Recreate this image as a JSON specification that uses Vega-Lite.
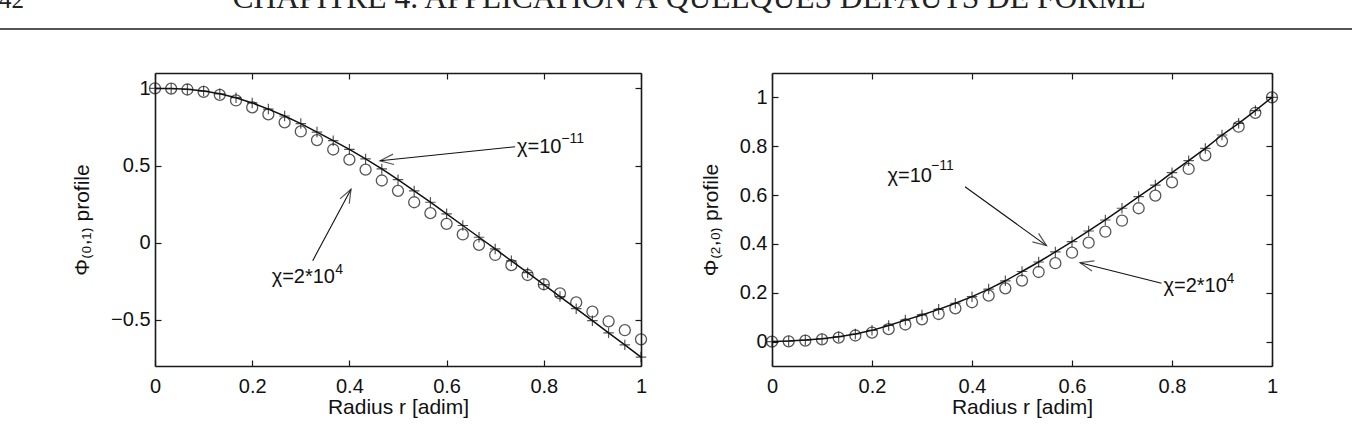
{
  "$schema": "https://vega.github.io/schema/vega-lite/v6.json",
  "width": 1359,
  "height": 428,
  "autosize": {"type": "none"},
  "padding": 0,
  "background": "white",
  "config": {
    "view": {"stroke": null},
    "font": "Liberation Sans",
    "axis": {
      "grid": false,
      "domainColor": "#1a1a1a",
      "domainWidth": 1.6,
      "tickColor": "#1a1a1a",
      "tickWidth": 1.2,
      "tickSize": -6,
      "labelFont": "Liberation Sans",
      "labelFontSize": 20,
      "labelColor": "#111",
      "labelPadding": 16,
      "labelOverlap": false,
      "labelFlush": false,
      "titleFont": "Liberation Sans",
      "titleFontSize": 21,
      "titleFontWeight": "normal",
      "titleColor": "#111"
    }
  },
  "datasets": {
    "phi01": [
      {"r": 0, "small": 1.000, "large": 1.000},
      {"r": 0.0333, "small": 0.999, "large": 0.999},
      {"r": 0.0667, "small": 0.994, "large": 0.993},
      {"r": 0.1, "small": 0.983, "large": 0.978},
      {"r": 0.1333, "small": 0.965, "large": 0.958},
      {"r": 0.1667, "small": 0.940, "large": 0.922},
      {"r": 0.2, "small": 0.906, "large": 0.877},
      {"r": 0.2333, "small": 0.866, "large": 0.832},
      {"r": 0.2667, "small": 0.821, "large": 0.780},
      {"r": 0.3, "small": 0.772, "large": 0.721},
      {"r": 0.3333, "small": 0.717, "large": 0.665},
      {"r": 0.3667, "small": 0.661, "large": 0.604},
      {"r": 0.4, "small": 0.605, "large": 0.538},
      {"r": 0.4333, "small": 0.543, "large": 0.473},
      {"r": 0.4667, "small": 0.478, "large": 0.403},
      {"r": 0.5, "small": 0.408, "large": 0.336},
      {"r": 0.5333, "small": 0.335, "large": 0.262},
      {"r": 0.5667, "small": 0.262, "large": 0.191},
      {"r": 0.6, "small": 0.187, "large": 0.122},
      {"r": 0.6333, "small": 0.111, "large": 0.053},
      {"r": 0.6667, "small": 0.035, "large": -0.014},
      {"r": 0.7, "small": -0.041, "large": -0.080},
      {"r": 0.7333, "small": -0.118, "large": -0.146},
      {"r": 0.7667, "small": -0.195, "large": -0.210},
      {"r": 0.8, "small": -0.272, "large": -0.270},
      {"r": 0.8333, "small": -0.350, "large": -0.329},
      {"r": 0.8667, "small": -0.428, "large": -0.388},
      {"r": 0.9, "small": -0.506, "large": -0.448},
      {"r": 0.9333, "small": -0.585, "large": -0.510},
      {"r": 0.9667, "small": -0.663, "large": -0.568},
      {"r": 1, "small": -0.742, "large": -0.627}
    ],
    "phi20": [
      {"r": 0, "small": 0.000, "large": 0.000},
      {"r": 0.0333, "small": 0.002, "large": 0.001},
      {"r": 0.0667, "small": 0.006, "large": 0.004},
      {"r": 0.1, "small": 0.012, "large": 0.009},
      {"r": 0.1333, "small": 0.020, "large": 0.016},
      {"r": 0.1667, "small": 0.031, "large": 0.025},
      {"r": 0.2, "small": 0.046, "large": 0.037},
      {"r": 0.2333, "small": 0.066, "large": 0.051},
      {"r": 0.2667, "small": 0.088, "large": 0.070},
      {"r": 0.3, "small": 0.109, "large": 0.091},
      {"r": 0.3333, "small": 0.132, "large": 0.113},
      {"r": 0.3667, "small": 0.157, "large": 0.136},
      {"r": 0.4, "small": 0.184, "large": 0.161},
      {"r": 0.4333, "small": 0.215, "large": 0.188},
      {"r": 0.4667, "small": 0.249, "large": 0.218},
      {"r": 0.5, "small": 0.287, "large": 0.250},
      {"r": 0.5333, "small": 0.326, "large": 0.285},
      {"r": 0.5667, "small": 0.367, "large": 0.321},
      {"r": 0.6, "small": 0.409, "large": 0.364},
      {"r": 0.6333, "small": 0.453, "large": 0.405},
      {"r": 0.6667, "small": 0.498, "large": 0.450},
      {"r": 0.7, "small": 0.546, "large": 0.495},
      {"r": 0.7333, "small": 0.594, "large": 0.546},
      {"r": 0.7667, "small": 0.641, "large": 0.598},
      {"r": 0.8, "small": 0.692, "large": 0.652},
      {"r": 0.8333, "small": 0.741, "large": 0.707},
      {"r": 0.8667, "small": 0.791, "large": 0.763},
      {"r": 0.9, "small": 0.846, "large": 0.821},
      {"r": 0.9333, "small": 0.894, "large": 0.880},
      {"r": 0.9667, "small": 0.946, "large": 0.937},
      {"r": 1, "small": 1.000, "large": 1.000}
    ],
    "notes01": [
      {"id": "small", "label": "χ=10", "sup": "−11", "tx": 0.745, "ty": 0.584, "sx": 0.836, "sy": 0.648, "ax": 0.741, "ay": 0.622, "hx": 0.463, "hy": 0.531},
      {"id": "large", "label": "χ=2*10", "sup": "4", "tx": 0.240, "ty": -0.262, "sx": 0.371, "sy": -0.203, "ax": 0.3245, "ay": -0.117, "hx": 0.4033, "hy": 0.346}
    ],
    "notes20": [
      {"id": "small", "label": "χ=10", "sup": "−11", "tx": 0.231, "ty": 0.654, "sx": 0.318, "sy": 0.703, "ax": 0.386, "ay": 0.634, "hx": 0.549, "hy": 0.393},
      {"id": "large", "label": "χ=2*10", "sup": "4", "tx": 0.783, "ty": 0.204, "sx": 0.909, "sy": 0.239, "ax": 0.779, "ay": 0.239, "hx": 0.616, "hy": 0.323}
    ],
    "runninghead": [
      {"part": "rule", "x": 0, "x2": 1352, "y": 29},
      {"part": "folio", "x": -1, "y": 7.5, "t": "42"},
      {"part": "title", "x": 689, "y": 7.5, "t": "CHAPITRE 4.  APPLICATION À QUELQUES DÉFAUTS DE FORME"}
    ]
  },
  "resolve": {
    "scale": {"x": "independent", "y": "independent"},
    "axis": {"x": "independent", "y": "independent"}
  },
  "layer": [
    {
      "data": {"name": "runninghead"},
      "layer": [
        {
          "transform": [{"filter": "datum.part === 'rule'"}],
          "mark": {"type": "rule", "stroke": "#555", "strokeWidth": 1.8},
          "encoding": {
            "x": {"field": "x", "type": "quantitative", "scale": {"domain": [0, 1359], "range": [0, 1359], "nice": false, "zero": false}, "axis": null},
            "x2": {"field": "x2"},
            "y": {"field": "y", "type": "quantitative", "scale": {"domain": [0, 428], "range": [0, 428], "nice": false, "zero": false}, "axis": null}
          }
        },
        {
          "transform": [{"filter": "datum.part === 'folio'"}],
          "mark": {"type": "text", "font": "Liberation Serif", "fontSize": 25, "align": "left", "baseline": "alphabetic", "color": "#222"},
          "encoding": {
            "x": {"field": "x", "type": "quantitative", "axis": null},
            "y": {"field": "y", "type": "quantitative", "axis": null},
            "text": {"field": "t"}
          }
        },
        {
          "transform": [{"filter": "datum.part === 'title'"}],
          "mark": {"type": "text", "font": "Liberation Serif", "fontSize": 31.5, "align": "center", "baseline": "alphabetic", "color": "#222"},
          "encoding": {
            "x": {"field": "x", "type": "quantitative", "axis": null},
            "y": {"field": "y", "type": "quantitative", "axis": null},
            "text": {"field": "t"}
          }
        }
      ]
    },
    {
      "data": {"name": "phi01"},
      "resolve": {"axis": {"x": "independent", "y": "independent"}},
      "layer": [
        {
          "mark": {"type": "line", "color": "#111", "strokeWidth": 1.5},
          "encoding": {
            "x": {"field": "r", "type": "quantitative",
                  "scale": {"domain": [0, 1], "range": [155, 641], "nice": false, "zero": false},
                  "axis": {"orient": "bottom", "offset": -62, "values": [0, 0.2, 0.4, 0.6, 0.8, 1], "format": ".1~f", "title": "Radius r [adim]", "titlePadding": 0}},
            "y": {"field": "small", "type": "quantitative",
                  "scale": {"domain": [-0.8, 1.1], "range": [366, 73], "nice": false, "zero": false},
                  "axis": {"orient": "left", "offset": -155, "values": [-0.5, 0, 0.5, 1], "format": ".1~f", "title": "Φ₍₀,₁₎ profile", "titlePadding": 18, "labelPadding": 11}}
          }
        },
        {
          "mark": {"type": "point", "shape": "M-1,0L1,0M0,-1L0,1", "size": 110, "filled": false, "stroke": "#111", "strokeWidth": 1.2},
          "encoding": {
            "x": {"field": "r", "type": "quantitative",
                  "axis": {"orient": "top", "offset": -73, "values": [0, 0.2, 0.4, 0.6, 0.8, 1], "labels": false, "title": null}},
            "y": {"field": "small", "type": "quantitative",
                  "axis": {"orient": "right", "offset": -718, "values": [-0.5, 0, 0.5, 1], "labels": false, "title": null}}
          }
        },
        {
          "mark": {"type": "point", "shape": "circle", "size": 121, "filled": false, "stroke": "#111", "strokeWidth": 1.3},
          "encoding": {
            "x": {"field": "r", "type": "quantitative", "axis": null},
            "y": {"field": "large", "type": "quantitative", "axis": null}
          }
        },
        {
          "data": {"name": "notes01"},
          "layer": [
            {
              "mark": {"type": "rule", "stroke": "#111", "strokeWidth": 1.1},
              "encoding": {
                "x": {"field": "ax", "type": "quantitative", "axis": null},
                "y": {"field": "ay", "type": "quantitative", "axis": null},
                "x2": {"field": "hx"},
                "y2": {"field": "hy"}
              }
            },
            {
              "transform": [{"filter": "datum.id === 'small'"}],
              "mark": {"type": "point", "shape": "M-2.6,-1L0,0L-2.6,1", "size": 110, "angle": 174, "filled": false, "stroke": "#111", "strokeWidth": 1.2},
              "encoding": {
                "x": {"field": "hx", "type": "quantitative", "axis": null},
                "y": {"field": "hy", "type": "quantitative", "axis": null}
              }
            },
            {
              "transform": [{"filter": "datum.id === 'large'"}],
              "mark": {"type": "point", "shape": "M-2.6,-1L0,0L-2.6,1", "size": 110, "angle": 298, "filled": false, "stroke": "#111", "strokeWidth": 1.2},
              "encoding": {
                "x": {"field": "hx", "type": "quantitative", "axis": null},
                "y": {"field": "hy", "type": "quantitative", "axis": null}
              }
            },
            {
              "mark": {"type": "text", "align": "left", "baseline": "alphabetic", "font": "Liberation Sans", "fontSize": 20, "color": "#111"},
              "encoding": {
                "x": {"field": "tx", "type": "quantitative", "axis": null},
                "y": {"field": "ty", "type": "quantitative", "axis": null},
                "text": {"field": "label"}
              }
            },
            {
              "mark": {"type": "text", "align": "left", "baseline": "alphabetic", "font": "Liberation Sans", "fontSize": 14, "color": "#111"},
              "encoding": {
                "x": {"field": "sx", "type": "quantitative", "axis": null},
                "y": {"field": "sy", "type": "quantitative", "axis": null},
                "text": {"field": "sup"}
              }
            }
          ]
        }
      ]
    },
    {
      "data": {"name": "phi20"},
      "resolve": {"axis": {"x": "independent", "y": "independent"}},
      "layer": [
        {
          "mark": {"type": "line", "color": "#111", "strokeWidth": 1.5},
          "encoding": {
            "x": {"field": "r", "type": "quantitative",
                  "scale": {"domain": [0, 1], "range": [772, 1272], "nice": false, "zero": false},
                  "axis": {"orient": "bottom", "offset": -62, "values": [0, 0.2, 0.4, 0.6, 0.8, 1], "format": ".1~f", "title": "Radius r [adim]", "titlePadding": 0}},
            "y": {"field": "small", "type": "quantitative",
                  "scale": {"domain": [-0.1, 1.1], "range": [366, 73], "nice": false, "zero": false},
                  "axis": {"orient": "left", "offset": -772, "values": [0, 0.2, 0.4, 0.6, 0.8, 1], "format": ".1~f", "title": "Φ₍₂,₀₎ profile", "titlePadding": 18, "labelPadding": 11}}
          }
        },
        {
          "mark": {"type": "point", "shape": "M-1,0L1,0M0,-1L0,1", "size": 110, "filled": false, "stroke": "#111", "strokeWidth": 1.2},
          "encoding": {
            "x": {"field": "r", "type": "quantitative",
                  "axis": {"orient": "top", "offset": -73, "values": [0, 0.2, 0.4, 0.6, 0.8, 1], "labels": false, "title": null}},
            "y": {"field": "small", "type": "quantitative",
                  "axis": {"orient": "right", "offset": -87, "values": [0, 0.2, 0.4, 0.6, 0.8, 1], "labels": false, "title": null}}
          }
        },
        {
          "mark": {"type": "point", "shape": "circle", "size": 121, "filled": false, "stroke": "#111", "strokeWidth": 1.3},
          "encoding": {
            "x": {"field": "r", "type": "quantitative", "axis": null},
            "y": {"field": "large", "type": "quantitative", "axis": null}
          }
        },
        {
          "data": {"name": "notes20"},
          "layer": [
            {
              "mark": {"type": "rule", "stroke": "#111", "strokeWidth": 1.1},
              "encoding": {
                "x": {"field": "ax", "type": "quantitative", "axis": null},
                "y": {"field": "ay", "type": "quantitative", "axis": null},
                "x2": {"field": "hx"},
                "y2": {"field": "hy"}
              }
            },
            {
              "transform": [{"filter": "datum.id === 'small'"}],
              "mark": {"type": "point", "shape": "M-2.6,-1L0,0L-2.6,1", "size": 110, "angle": 36, "filled": false, "stroke": "#111", "strokeWidth": 1.2},
              "encoding": {
                "x": {"field": "hx", "type": "quantitative", "axis": null},
                "y": {"field": "hy", "type": "quantitative", "axis": null}
              }
            },
            {
              "transform": [{"filter": "datum.id === 'large'"}],
              "mark": {"type": "point", "shape": "M-2.6,-1L0,0L-2.6,1", "size": 110, "angle": 194, "filled": false, "stroke": "#111", "strokeWidth": 1.2},
              "encoding": {
                "x": {"field": "hx", "type": "quantitative", "axis": null},
                "y": {"field": "hy", "type": "quantitative", "axis": null}
              }
            },
            {
              "mark": {"type": "text", "align": "left", "baseline": "alphabetic", "font": "Liberation Sans", "fontSize": 20, "color": "#111"},
              "encoding": {
                "x": {"field": "tx", "type": "quantitative", "axis": null},
                "y": {"field": "ty", "type": "quantitative", "axis": null},
                "text": {"field": "label"}
              }
            },
            {
              "mark": {"type": "text", "align": "left", "baseline": "alphabetic", "font": "Liberation Sans", "fontSize": 14, "color": "#111"},
              "encoding": {
                "x": {"field": "sx", "type": "quantitative", "axis": null},
                "y": {"field": "sy", "type": "quantitative", "axis": null},
                "text": {"field": "sup"}
              }
            }
          ]
        }
      ]
    }
  ]
}
